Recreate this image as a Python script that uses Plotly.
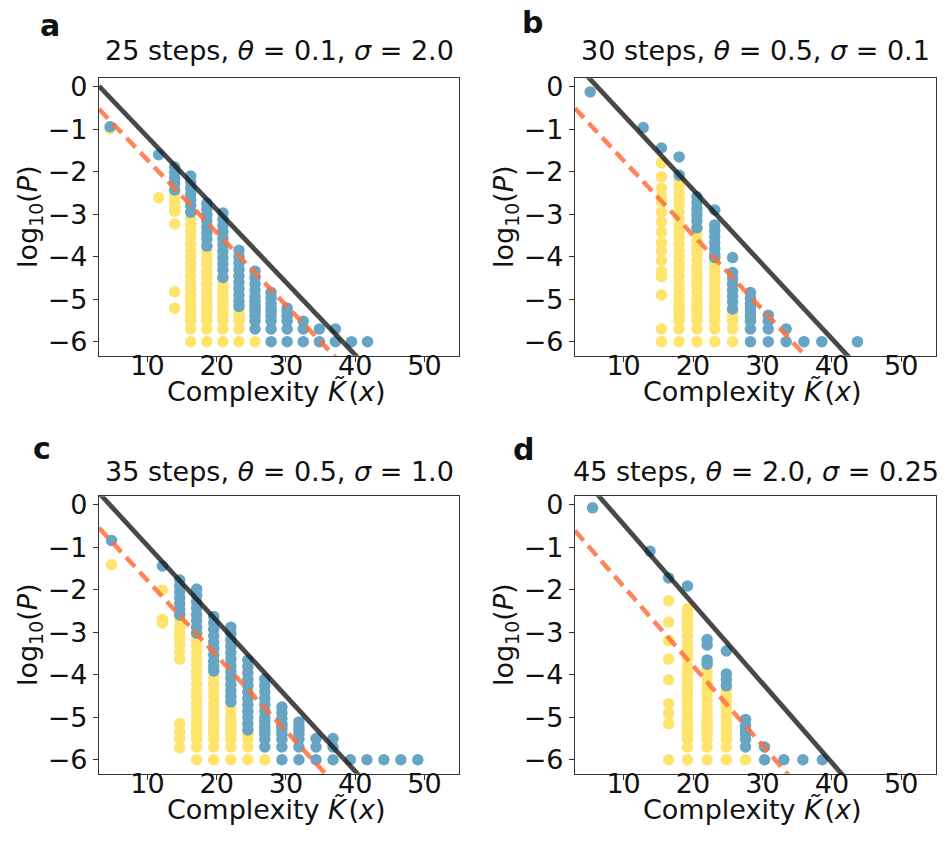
import plotly.graph_objects as go

# ---------------------------------------------------------------------------
# Data: complexity values (columns) and log10 probabilities for each panel.
# "blue" = sampled outputs, "yellow" = second population drawn underneath.
# ---------------------------------------------------------------------------

# Panel a: 25 steps, theta = 0.1, sigma = 2.0
a_k = [4.6, 11.61, 13.93, 16.25, 18.58, 20.9, 23.22, 25.54, 27.86, 30.18,
       32.5, 34.83, 37.15, 39.47, 41.79]
a_blue = [
    [-0.94],
    [-1.6],
    [-1.89, -2.02, -2.15, -2.28, -2.43],
    [-2.10, -2.24, -2.38, -2.52, -2.66, -2.80, -2.95],
    [-2.74, -2.88, -3.02, -3.16, -3.30, -3.44, -3.58, -3.75],
    [-2.97, -3.12, -3.27, -3.42, -3.57, -3.72, -3.87, -4.02, -4.17, -4.32, -4.49],
    [-3.85, -4.00, -4.15, -4.30, -4.45, -4.60, -4.75, -4.90, -5.05, -5.17],
    [-4.34, -4.49, -4.64, -4.79, -4.94, -5.05, -5.15, -5.22, -5.30, -5.40, -5.52, -5.70],
    [-4.84, -4.97, -5.10, -5.22, -5.30, -5.40, -5.52, -5.70, -6.00],
    [-5.21, -5.30, -5.40, -5.52, -5.70, -6.00],
    [-5.52, -5.70, -6.00],
    [-5.70, -6.00],
    [-5.70, -6.00],
    [-6.00],
    [-6.00],
]
a_yellow = [
    [-0.99],
    [-2.61],
    [-2.45, -2.58, -2.71, -2.84, -2.93, -3.23, -4.82, -5.21],
    [-2.95, -3.10, -3.25, -3.40, -3.55, -3.70, -3.85, -4.00, -4.15, -4.30, -4.45,
     -4.60, -4.75, -4.90, -5.05, -5.15, -5.22, -5.30, -5.40, -5.52, -5.70, -6.00],
    [-3.75, -3.90, -4.05, -4.20, -4.35, -4.50, -4.65, -4.80, -4.95, -5.05, -5.15,
     -5.22, -5.30, -5.40, -5.52, -5.70, -6.00],
    [-4.49, -4.62, -4.75, -4.88, -5.00, -5.10, -5.15, -5.22, -5.30, -5.40, -5.52,
     -5.70, -6.00],
    [-5.17, -5.30, -5.40, -5.52, -5.70, -6.00],
    [-6.00],
    [], [], [], [], [], [], [],
]
a_fit = {"slope": -0.171, "upper": 0.53, "lower": -0.01}

# Panel b: 30 steps, theta = 0.5, sigma = 0.1
b_k = [5.19, 12.83, 15.45, 18.0, 20.56, 23.13, 25.7, 28.27, 30.84, 33.41,
       35.98, 38.55, 43.69]
b_blue = [
    [-0.12],
    [-0.96],
    [-1.44],
    [-1.65, -2.08],
    [-2.59, -2.73, -2.87, -3.01, -3.15, -3.32],
    [-2.90, -3.25, -3.39, -3.53, -3.67, -3.81, -3.95, -4.02],
    [-4.02, -4.37, -4.51, -4.65, -4.79, -4.93, -5.07, -5.23],
    [-4.84, -4.98, -5.10, -5.22, -5.30, -5.40, -5.52, -5.70, -6.00],
    [-5.38, -5.52, -5.70, -6.00],
    [-5.70, -6.00],
    [-6.00],
    [-6.00],
    [-6.00],
]
b_yellow = [
    [],
    [],
    [-1.79, -2.12, -2.39, -2.58, -2.70, -2.95, -3.18, -3.42, -3.67, -3.87, -4.09,
     -4.35, -4.47, -4.90, -5.70, -6.00],
    [-2.20, -2.35, -2.50, -2.65, -2.80, -2.95, -3.10, -3.25, -3.40, -3.55, -3.70,
     -3.85, -4.00, -4.15, -4.30, -4.45, -4.60, -4.75, -4.90, -5.05, -5.15, -5.22,
     -5.30, -5.40, -5.52, -5.70, -6.00],
    [-3.32, -3.47, -3.62, -3.77, -3.92, -4.07, -4.22, -4.37, -4.52, -4.67, -4.82,
     -4.97, -5.10, -5.22, -5.30, -5.40, -5.52, -5.70, -6.00],
    [-4.02, -4.17, -4.32, -4.47, -4.62, -4.77, -4.92, -5.05, -5.15, -5.22, -5.30,
     -5.40, -5.52, -5.70, -6.00],
    [-5.23, -5.30, -5.40, -5.52, -5.70, -6.00],
    [], [], [], [], [], [],
]
b_fit = {"slope": -0.1755, "upper": 1.09, "lower": 0.02}

# Panel c: 35 steps, theta = 0.5, sigma = 1.0
c_k = [4.81, 12.16, 14.66, 17.1, 19.57, 22.05, 24.5, 26.95, 29.42, 31.88,
       34.35, 36.8, 39.3, 41.7, 44.15, 46.6, 49.05]
c_blue = [
    [-0.84],
    [-1.44],
    [-1.77, -1.91, -2.05, -2.19, -2.33, -2.47, -2.59],
    [-1.98, -2.13, -2.28, -2.43, -2.58, -2.73, -2.88, -3.02],
    [-2.63, -2.78, -2.93, -3.08, -3.23, -3.38, -3.53, -3.68, -3.80, -3.91],
    [-2.88, -3.03, -3.18, -3.33, -3.48, -3.63, -3.78, -3.93, -4.08, -4.23, -4.38,
     -4.52, -4.64],
    [-3.66, -3.81, -3.96, -4.11, -4.26, -4.41, -4.56, -4.71, -4.86, -5.00, -5.15,
     -5.30],
    [-4.10, -4.25, -4.40, -4.55, -4.70, -4.85, -5.00, -5.10, -5.22, -5.30, -5.40,
     -5.52, -5.70],
    [-4.76, -4.90, -5.03, -5.15, -5.22, -5.30, -5.40, -5.52, -5.70, -6.00],
    [-5.11, -5.22, -5.30, -5.40, -5.52, -5.70, -6.00],
    [-5.50, -5.70, -6.00],
    [-5.50, -5.70, -6.00],
    [-6.00],
    [-6.00],
    [-6.00],
    [-6.00],
    [-6.00],
]
c_yellow = [
    [-1.41],
    [-2.01, -2.70, -2.78],
    [-2.59, -2.73, -2.87, -3.01, -3.15, -3.29, -3.45, -3.63, -5.15, -5.34, -5.50,
     -5.72],
    [-3.02, -3.17, -3.32, -3.47, -3.62, -3.77, -3.92, -4.07, -4.22, -4.37, -4.52,
     -4.67, -4.82, -4.97, -5.10, -5.22, -5.30, -5.40, -5.52, -5.70, -6.00],
    [-3.91, -4.06, -4.21, -4.36, -4.51, -4.66, -4.81, -4.96, -5.08, -5.15, -5.22,
     -5.30, -5.40, -5.52, -5.70, -6.00],
    [-4.64, -4.78, -4.92, -5.05, -5.15, -5.22, -5.30, -5.40, -5.52, -5.70, -6.00],
    [-5.30, -5.40, -5.52, -5.70, -6.00],
    [-6.00],
    [], [], [], [], [], [], [], [], [],
]
c_fit = {"slope": -0.177, "upper": 0.81, "lower": -0.01}

# Panel d: 45 steps, theta = 2.0, sigma = 0.25
d_k = [5.53, 13.8, 16.49, 19.2, 22.03, 24.8, 27.56, 30.3, 33.09, 35.83, 38.63]
d_blue = [
    [-0.07],
    [-1.09],
    [-1.72],
    [-1.91],
    [-3.17, -3.30, -3.65, -3.75],
    [-3.44, -3.98, -4.12, -4.26],
    [-5.05, -5.20, -5.30, -5.40, -5.52, -5.70],
    [-5.70, -6.00],
    [-6.00],
    [-6.00],
    [-6.00],
]
d_yellow = [
    [],
    [],
    [-2.26, -2.76, -3.19, -3.63, -4.12, -4.68, -4.91, -5.15, -6.00],
    [-2.45, -2.58, -2.70, -2.82, -2.95, -3.08, -3.25, -3.40, -3.52, -3.62, -3.80,
     -3.95, -4.10, -4.22, -4.35, -4.48, -4.60, -4.72, -4.85, -5.00, -5.10, -5.22,
     -5.30, -5.40, -5.52, -5.70, -6.00],
    [-3.78, -3.92, -4.06, -4.20, -4.34, -4.48, -4.62, -4.76, -4.90, -5.03, -5.15,
     -5.22, -5.30, -5.40, -5.52, -5.70, -6.00],
    [-4.37, -4.50, -4.63, -4.76, -4.89, -5.02, -5.15, -5.22, -5.30, -5.40, -5.52,
     -5.70, -6.00],
    [-6.00],
    [], [], [], [],
]
d_fit = {"slope": -0.187, "upper": 1.41, "lower": -0.05}

panel_titles = [
    "25 steps, <i>θ</i> = 0.1, <i>σ</i> = 2.0",
    "30 steps, <i>θ</i> = 0.5, <i>σ</i> = 0.1",
    "35 steps, <i>θ</i> = 0.5, <i>σ</i> = 1.0",
    "45 steps, <i>θ</i> = 2.0, <i>σ</i> = 0.25",
]
panel_letters = ["a", "b", "c", "d"]
x_title = "Complexity <i>K\u0303</i>\u200a(<i>x</i>)"
y_title = "log<sub>10</sub>(<i>P</i>)"
x_ticks = [10, 20, 30, 40, 50]
x_ticklabels = ["10", "20", "30", "40", "50"]
y_ticks = [0, -1, -2, -3, -4, -5, -6]
y_ticklabels = ["0", "\u22121", "\u22122", "\u22123", "\u22124", "\u22125", "\u22126"]
x_range = [3, 55]
y_range = [-6.33, 0.2]

# ---------------------------------------------------------------------------
# Styling / layout
# ---------------------------------------------------------------------------
W, H = 946, 854
FONT = "DejaVu Sans"
FS = 27
BLUE = "#67a5c4"
YELLOW = "#fee46d"
BLACK_LINE = "rgba(20,20,20,0.78)"
ORANGE_LINE = "rgba(255,110,60,0.85)"
TEXT = "#111111"


def fx(p):
    return p / W


def fy(p):
    return 1 - p / H


# Plot boxes in pixels: (left, right, top, bottom)
boxes = [(99, 459, 72, 352), (575, 936, 72, 352),
         (99, 459, 494, 774), (575, 936, 494, 774)]
# Panel letter centres and title heights in pixels
letter_xy = [(50, 19), (532, 16), (42, 446), (523, 447)]
title_y = [44, 44, 469, 469]

panels = [
    (a_k, a_blue, a_yellow, a_fit),
    (b_k, b_blue, b_yellow, b_fit),
    (c_k, c_blue, c_yellow, c_fit),
    (d_k, d_blue, d_yellow, d_fit),
]


def flatten(ks, cols):
    xs, ys = [], []
    for k, col in zip(ks, cols):
        for v in col:
            xs.append(k)
            ys.append(v)
    return xs, ys


fig = go.Figure()
annotations = []


def label(x, y, text, size=FS, angle=0, xanchor="center"):
    annotations.append(dict(x=fx(x), y=fy(y), xref="paper", yref="paper",
                            xanchor=xanchor, yanchor="middle", text=text,
                            showarrow=False, textangle=angle,
                            font=dict(family=FONT, size=size, color=TEXT)))


for i, (ks, blue, yellow, fit) in enumerate(panels):
    sfx = "" if i == 0 else str(i + 1)
    xa, ya = "x" + sfx, "y" + sfx

    yx, yy = flatten(ks, yellow)
    fig.add_trace(go.Scatter(x=yx, y=yy, mode="markers", xaxis=xa, yaxis=ya,
                             marker=dict(color=YELLOW, size=11.5, line=dict(width=0)),
                             showlegend=False, hoverinfo="skip"))
    bx, by = flatten(ks, blue)
    fig.add_trace(go.Scatter(x=bx, y=by, mode="markers", xaxis=xa, yaxis=ya,
                             marker=dict(color=BLUE, size=11.5, line=dict(width=0)),
                             showlegend=False, hoverinfo="skip"))

    lx = x_range
    fig.add_trace(go.Scatter(x=lx, y=[fit["slope"] * v + fit["upper"] for v in lx],
                             mode="lines", xaxis=xa, yaxis=ya,
                             line=dict(color=BLACK_LINE, width=4.8),
                             showlegend=False, hoverinfo="skip"))
    fig.add_trace(go.Scatter(x=lx, y=[fit["slope"] * v + fit["lower"] for v in lx],
                             mode="lines", xaxis=xa, yaxis=ya,
                             line=dict(color=ORANGE_LINE, width=4.5, dash="13px,7px"),
                             showlegend=False, hoverinfo="skip"))

    left, right, top, bottom = boxes[i]
    axis_common = dict(showgrid=False, zeroline=False, showline=True, mirror=True,
                       linecolor="#333333", linewidth=1.2, ticks="outside",
                       ticklen=5, tickwidth=1.2, tickcolor="#333333",
                       tickfont=dict(family=FONT, size=FS, color=TEXT))
    fig.update_layout(**{
        "xaxis" + sfx: dict(domain=[fx(left), fx(right)], range=x_range,
                            tickmode="array", tickvals=x_ticks,
                            ticktext=x_ticklabels, anchor=ya,
                            ticklabelstandoff=-19, **axis_common),
        "yaxis" + sfx: dict(domain=[fy(bottom), fy(top)], range=y_range,
                            tickmode="array", tickvals=y_ticks,
                            ticktext=y_ticklabels, anchor=xa, **axis_common),
    })

    cx = (left + right) / 2
    label(cx, title_y[i], panel_titles[i])
    label(left + 66, bottom + 36, x_title, xanchor="left")
    label(left - 70, (top + bottom) / 2, y_title, angle=-90)
    lxp, lyp = letter_xy[i]
    label(lxp, lyp, "<b>" + panel_letters[i] + "</b>", size=30)

fig.update_layout(width=W, height=H, margin=dict(l=0, r=0, t=0, b=0),
                  paper_bgcolor="white", plot_bgcolor="white",
                  annotations=annotations, showlegend=False)

fig.write_html("out.html")
